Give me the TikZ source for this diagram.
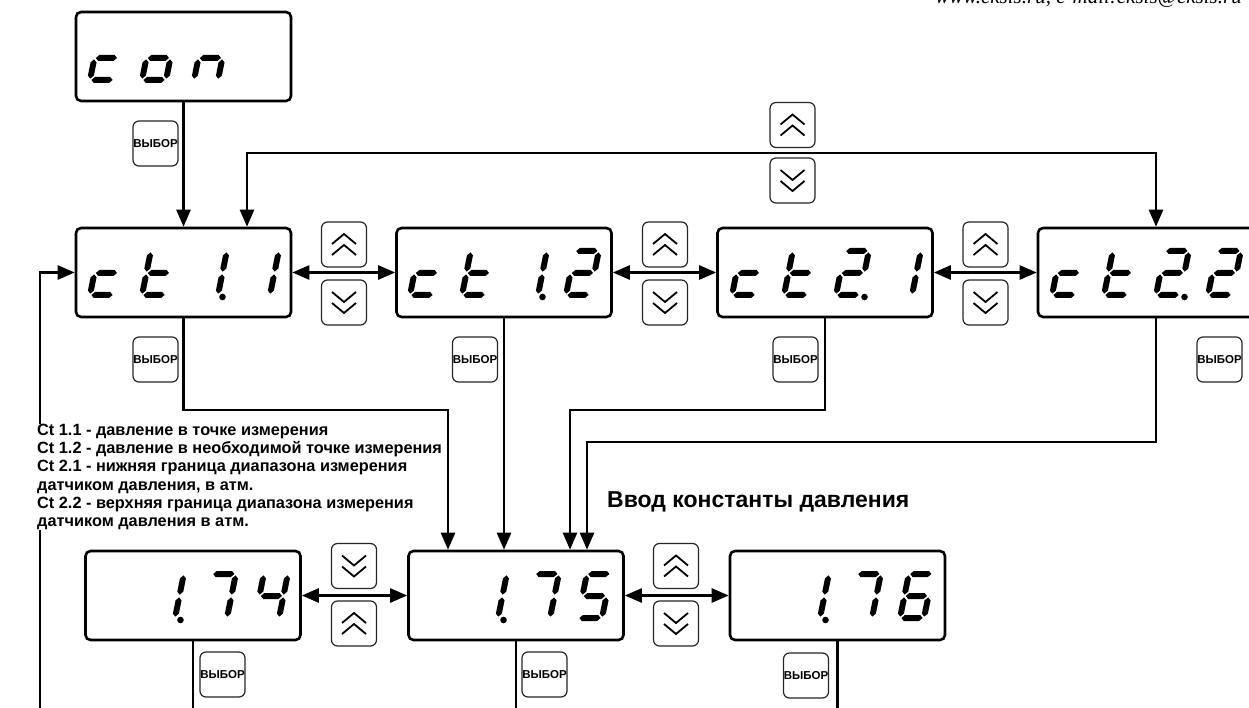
\documentclass[tikz,border=0pt]{standalone}
\usepackage{fontspec}
\setmainfont{Liberation Sans}
\newfontfamily\hdrfont{Liberation Serif}
\usetikzlibrary{arrows.meta}
% seven-segment pieces (local coords, y up)
\newcommand\hseg[3]{\fill (#2,#1)--(#2+3,#1+3)--(#3-3,#1+3)--(#3,#1)--(#3-3,#1-3)--(#2+3,#1-3)--cycle;}
\newcommand\vseg[3]{\fill (#1,#2)--(#1+3,#2-3)--(#1+3,#3+3)--(#1,#3)--(#1-3,#3+3)--(#1-3,#2-3)--cycle;}
\newcommand\sgA{\hseg{44}{1.4}{22.6}}
\newcommand\sgB{\vseg{24}{42.6}{23.4}}
\newcommand\sgC{\vseg{24}{20.6}{1.4}}
\newcommand\sgD{\hseg{0}{1.4}{22.6}}
\newcommand\sgE{\vseg{0}{20.6}{1.4}}
\newcommand\sgF{\vseg{0}{42.6}{23.4}}
\newcommand\sgG{\hseg{22}{1.4}{22.6}}
\newcommand\dgC{\sgD\sgE\sgG}
\newcommand\dgO{\sgC\sgD\sgE\sgG}
\newcommand\dgN{\sgC\sgE\sgG}
\newcommand\dgT{\sgD\sgE\sgF\sgG}
\newcommand\dgI{\sgB\sgC}
\newcommand\dgII{\sgA\sgB\sgG\sgE\sgD}
\newcommand\dgIV{\sgF\sgG\sgB\sgC}
\newcommand\dgV{\sgA\sgF\sgG\sgC\sgD}
\newcommand\dgVI{\sgA\sgF\sgG\sgE\sgD\sgC}
\newcommand\dgVII{\sgA\sgB\sgC}
\newcommand\dig[3]{\begin{scope}[shift={(#1,#2)},x=1pt,y=1pt,xslant=0.2]#3\end{scope}}
\newcommand\segdot[2]{\fill (#1,#2) circle[radius=3.3pt];}
\newcommand\chevup[1]{\begin{scope}[shift={(#1.center)}]
 \draw[chev] (-12,-0.5)--(0,-10.5)--(12,-0.5);
 \draw[chev] (-12,10.5)--(0,0.5)--(12,10.5);\end{scope}}
\newcommand\chevdown[1]{\begin{scope}[shift={(#1.center)}]
 \draw[chev] (-12,0.5)--(0,10.5)--(12,0.5);
 \draw[chev] (-12,-10.5)--(0,-0.5)--(12,-10.5);\end{scope}}
\begin{document}
\begin{tikzpicture}[x=1pt,y=-1pt,
 disp/.style={draw, line width=2.6pt, rounded corners=5pt, minimum width=215pt, minimum height=89pt, inner sep=0pt},
 btn/.style={draw=black!85, line width=1.2pt, rounded corners=6pt, minimum width=45pt, minimum height=45pt, inner sep=0pt},
 vbtn/.style={btn, font=\bfseries\fontsize{11.5}{11.5}\selectfont},
 conn/.style={line width=2.5pt},
 arr/.style={conn, -{Triangle[length=17pt,width=14pt]}},
 darr/.style={conn, {Triangle[length=17pt,width=14pt]}-{Triangle[length=17pt,width=14pt]}},
 chev/.style={line width=1.8pt}]
\useasboundingbox (0,0) rectangle (1249,708);
\fill[white] (0,0) rectangle (1249,708);

% header
\node[anchor=base east, inner sep=0pt, font=\hdrfont\itshape\fontsize{21}{21}\selectfont] (hdr) at (1242,4) {www.eksis.ru, e-mail:eksis@eksis.ru};

% displays
\node[disp] (con) at (183.5,56.5) {};
\node[disp] (ct11) at (183.5,272.5) {};
\node[disp] (ct12) at (504,272.5) {};
\node[disp] (ct21) at (825,272.5) {};
\node[disp, minimum width=236pt] (ct22) at (1156,272.5) {};
\node[disp] (d174) at (193,595.5) {};
\node[disp] (d175) at (516,595.5) {};
\node[disp] (d176) at (837.5,595.5) {};

% digits
\dig{90}{80}{\dgC}\dig{142}{80}{\dgO}\dig{194}{80}{\dgN}
\dig{90}{295}{\dgC}\dig{142}{295}{\dgT}\dig{194}{295}{\dgI}\segdot{222.5}{297}\dig{246}{295}{\dgI}
\dig{410}{295}{\dgC}\dig{462}{295}{\dgT}\dig{514}{295}{\dgI}\segdot{542.5}{297}\dig{566}{295}{\dgII}
\dig{732}{295}{\dgC}\dig{784}{295}{\dgT}\dig{836}{295}{\dgII}\segdot{864.5}{297}\dig{888}{295}{\dgI}
\dig{1052}{295}{\dgC}\dig{1104}{295}{\dgT}\dig{1156}{295}{\dgII}\segdot{1184.5}{297}\dig{1208}{295}{\dgII}
\dig{151}{618}{\dgI}\segdot{180.5}{620}\dig{203}{618}{\dgVII}\dig{255}{618}{\dgIV}
\dig{474}{618}{\dgI}\segdot{503.5}{620}\dig{526}{618}{\dgVII}\dig{578}{618}{\dgV}
\dig{796}{618}{\dgI}\segdot{825.5}{620}\dig{848}{618}{\dgVII}\dig{900}{618}{\dgVI}

% up/down buttons
\node[btn] (lu) at (792.5,125) {}; \chevup{lu}
\node[btn] (ld) at (792.5,180.5) {}; \chevdown{ld}
\node[btn] (u1) at (344,244.5) {}; \chevup{u1}
\node[btn] (d1) at (344,302.5) {}; \chevdown{d1}
\node[btn] (u2) at (665,244.5) {}; \chevup{u2}
\node[btn] (d2) at (665,302.5) {}; \chevdown{d2}
\node[btn] (u3) at (985.5,244.5) {}; \chevup{u3}
\node[btn] (d3) at (985.5,302.5) {}; \chevdown{d3}
\node[btn] (d4) at (354,566) {}; \chevdown{d4}
\node[btn] (u4) at (354,623.5) {}; \chevup{u4}
\node[btn] (u5) at (676,566) {}; \chevup{u5}
\node[btn] (d5) at (676,623.5) {}; \chevdown{d5}

% select buttons
\node[vbtn] (s0) at (155.5,143.5) {ВЫБОР};
\node[vbtn] (s1) at (155.5,359.5) {ВЫБОР};
\node[vbtn] (s2) at (475,359.5) {ВЫБОР};
\node[vbtn] (s3) at (795.5,359.5) {ВЫБОР};
\node[vbtn] (s4) at (1219.5,359.5) {ВЫБОР};
\node[vbtn] (s5) at (222.5,674.5) {ВЫБОР};
\node[vbtn] (s6) at (544.5,674.5) {ВЫБОР};
\node[vbtn] (s7) at (806,675.5) {ВЫБОР};

% connectors
\draw[arr] (con.south) -- (ct11.north);
\coordinate (L1) at (247,153);
\draw[darr] (ct11.north -| L1) -- (L1) -- (ct22.north |- L1) -- (ct22.north);
\coordinate (FB) at (40,712);
\draw[arr] (FB) |- (ct11.west);
\draw[darr] (ct11.east) -- (ct12.west);
\draw[darr] (ct12.east) -- (ct21.west);
\draw[darr] (ct21.east) -- (ct22.west);
\draw[darr] (d174.east) -- (d175.west);
\draw[darr] (d175.east) -- (d176.west);
\coordinate (j1) at (448,410);
\coordinate (j3) at (570,410);
\coordinate (j4) at (587,442);
\draw[arr] (ct11.south) |- (j1) -- (j1 |- d175.north);
\draw[arr] (ct12.south) -- (ct12.south |- d175.north);
\draw[arr] (ct21.south) |- (j3) -- (j3 |- d175.north);
\draw[arr] (ct22.south) |- (j4) -- (j4 |- d175.north);
\coordinate (e174) at (193,712);
\coordinate (e175) at (516,712);
\coordinate (e176) at (837.5,712);
\draw[conn] (d174.south) -- (e174);
\draw[conn] (d175.south) -- (e175);
\draw[conn] (d176.south) -- (e176);

% texts
\node[anchor=north west, align=left, fill=white, inner sep=0pt, font=\bfseries\fontsize{16.3}{18.3}\selectfont] (legend) at (37,423.8)
{Ct 1.1 - давление в точке измерения\\
Ct 1.2 - давление в необходимой точке измерения\\
Ct 2.1 - нижняя граница диапазона измерения\\
датчиком давления, в атм.\\
Ct 2.2 - верхняя граница диапазона измерения\\
датчиком давления в атм.};
\node[anchor=base west, inner sep=0pt, font=\bfseries\fontsize{23}{23}\selectfont] (title) at (607,507.5) {Ввод константы давления};
\end{tikzpicture}
\end{document}
